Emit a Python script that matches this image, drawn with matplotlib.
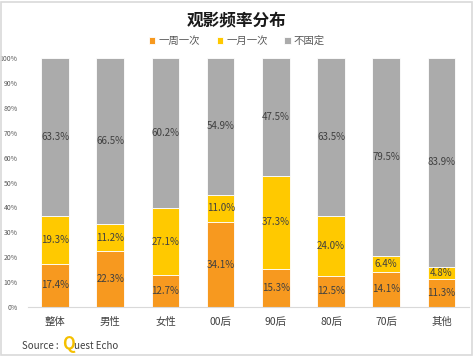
import numpy as np
import matplotlib
matplotlib.use('Agg')
import matplotlib.pyplot as plt
from matplotlib.patches import Rectangle

plt.rcParams['font.family'] = ['Noto Sans CJK SC', 'DejaVu Sans']

# ── Data ─────────────────────────────────────────────
categories = ['整体', '男性', '女性', '00后', '90后', '80后', '70后', '其他']
weekly     = [17.4, 22.3, 12.7, 34.1, 15.3, 12.5, 14.1, 11.3]
monthly    = [19.3, 11.2, 27.1, 11.0, 37.3, 24.0, 6.4, 4.8]
irregular  = [63.3, 66.5, 60.2, 54.9, 47.5, 63.5, 79.5, 83.9]
series_names = ['一周一次', '一月一次', '不固定']
colors = ['#F7991F', '#FFC900', '#ABABAB']
y_ticks = [0, 10, 20, 30, 40, 50, 60, 70, 80, 90, 100]

W, H = 474, 356
fig = plt.figure(figsize=(W / 100, H / 100), dpi=100, facecolor='white')

# outer light frame
fig.patches.append(Rectangle((0.002, 0.004), 0.994, 0.99, transform=fig.transFigure,
                             fill=False, edgecolor='#D9D9D9', lw=1.2))

ax = fig.add_axes([27.5 / W, (H - 307) / H, (469 - 27.5) / W, (307 - 58) / H])

x = np.arange(len(categories))
w = 0.5
data = [weekly, monthly, irregular]
bottom = np.zeros(len(categories))
for vals, col, name in zip(data, colors, series_names):
    vals = np.array(vals)
    ax.bar(x, vals, w, bottom=bottom, color=col, edgecolor='white', lw=0.6, label=name)
    for xi, b, v in zip(x, bottom, vals):
        ax.text(xi, b + v / 2, f'{v:.1f}%', ha='center', va='center',
                fontsize=7, color='#404040')
    bottom += vals

ax.set_xlim(-0.5, len(categories) - 0.5)
ax.set_ylim(0, 100)
ax.set_yticks(y_ticks)
ax.set_yticklabels([f'{t}%' for t in y_ticks], fontsize=5, color='#595959')
ax.set_xticks(x)
ax.set_xticklabels(categories, fontsize=7.5, color='#404040')
ax.tick_params(axis='both', length=0)
ax.tick_params(axis='y', pad=7)
ax.tick_params(axis='x', pad=7)
for s in ['top', 'right', 'left']:
    ax.spines[s].set_visible(False)
ax.spines['bottom'].set_color('#D9D9D9')
ax.spines['bottom'].set_linewidth(0.8)

fig.text(0.5, 1 - 20 / H, '观影频率分布', ha='center', va='center',
         fontsize=12, fontweight='bold', color='#1a1a1a')

handles, labels = ax.get_legend_handles_labels()
fig.legend(handles, labels, loc='center', bbox_to_anchor=(0.5, 1 - 41 / H), ncol=3,
           frameon=False, fontsize=7.5, handlelength=0.6, handleheight=0.6,
           handletextpad=0.3, columnspacing=1.6, labelcolor='#595959')

fig.text(22 / W, 1 - 346 / H, 'Source :', ha='left', va='center', fontsize=7, color='#404040')
fig.text(62 / W, 1 - 344 / H, 'Q', ha='left', va='center', fontsize=12,
         color='#F5C000', fontweight='bold')
fig.text(74 / W, 1 - 346 / H, 'uest Echo', ha='left', va='center', fontsize=7, color='#404040')

fig.savefig('out.png', dpi=100, facecolor='white')
